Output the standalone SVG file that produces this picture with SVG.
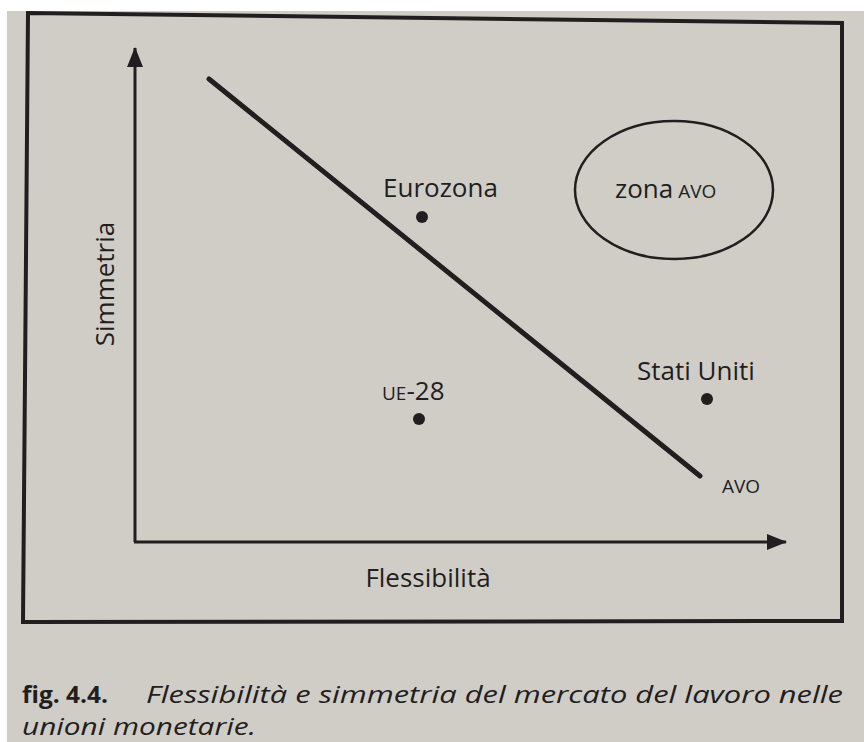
<svg xmlns="http://www.w3.org/2000/svg" width="864" height="742" viewBox="0 0 864 742">
  <style>
    .ink { fill: #221e1f; font-family: "Open Sans", "Noto Sans", "Liberation Sans", sans-serif; }
    .lbl { font-size: 26px; }
    .sc { font-size: 19px; }
    .cap { font-size: 23px; }
    .stroke { stroke: #221e1f; fill: none; }
    .dot { fill: #221e1f; }
  </style>
  <defs>
    <marker id="arrow" markerUnits="userSpaceOnUse" markerWidth="20" markerHeight="16" refX="19" refY="8" orient="auto">
      <path d="M0,0 L20,8 L0,16 z" fill="#221e1f"/>
    </marker>
  </defs>
  <rect x="0" y="0" width="864" height="742" fill="#ffffff"/>
  <rect x="7" y="11" width="857" height="731" fill="#d0cdc7"/>

  <g id="frame">
    <polygon class="stroke" stroke-width="4" points="28,13 842,23 842,621 23,622"/>
  </g>

  <g id="connectors">
    <line class="stroke" stroke-width="3" x1="135" y1="542" x2="135" y2="48" marker-end="url(#arrow)"/>
    <line class="stroke" stroke-width="3" x1="134" y1="542" x2="786" y2="542" marker-end="url(#arrow)"/>
    <line id="avo-line" class="stroke" stroke-width="5" stroke-linecap="round" x1="209" y1="79" x2="700" y2="476"/>
  </g>

  <g id="axis-y-label">
    <text class="ink lbl" transform="translate(114,284) rotate(-90)" text-anchor="middle">Simmetria</text>
  </g>
  <g id="axis-x-label">
    <text class="ink lbl" x="428" y="587" text-anchor="middle">Flessibilità</text>
  </g>

  <g id="eurozona">
    <text class="ink lbl" x="383" y="197">Eurozona</text>
    <circle class="dot" cx="422" cy="217" r="6"/>
  </g>

  <g id="ue28">
    <text class="ink" x="382" y="400"><tspan class="sc">UE</tspan><tspan class="lbl">-28</tspan></text>
    <circle class="dot" cx="419" cy="419" r="6"/>
  </g>

  <g id="stati-uniti">
    <text class="ink lbl" x="637" y="380">Stati Uniti</text>
    <circle class="dot" cx="707" cy="399" r="6"/>
  </g>

  <g id="avo-label">
    <text class="ink sc" x="722" y="493">AVO</text>
  </g>

  <g id="zona-avo">
    <ellipse class="stroke" stroke-width="2.5" cx="674" cy="190" rx="99" ry="69"/>
    <text class="ink" x="615" y="198"><tspan class="lbl">zona</tspan><tspan class="sc" dx="5">AVO</tspan></text>
  </g>

  <g id="caption">
    <text class="ink cap" x="22" y="703" font-weight="bold" textLength="86" lengthAdjust="spacingAndGlyphs">fig. 4.4.</text>
    <text class="ink cap" x="146" y="703" font-style="italic" textLength="697" lengthAdjust="spacingAndGlyphs">Flessibilità e simmetria del mercato del lavoro nelle</text>
    <text class="ink cap" x="22" y="735" font-style="italic" textLength="234" lengthAdjust="spacingAndGlyphs">unioni monetarie.</text>
  </g>
</svg>
